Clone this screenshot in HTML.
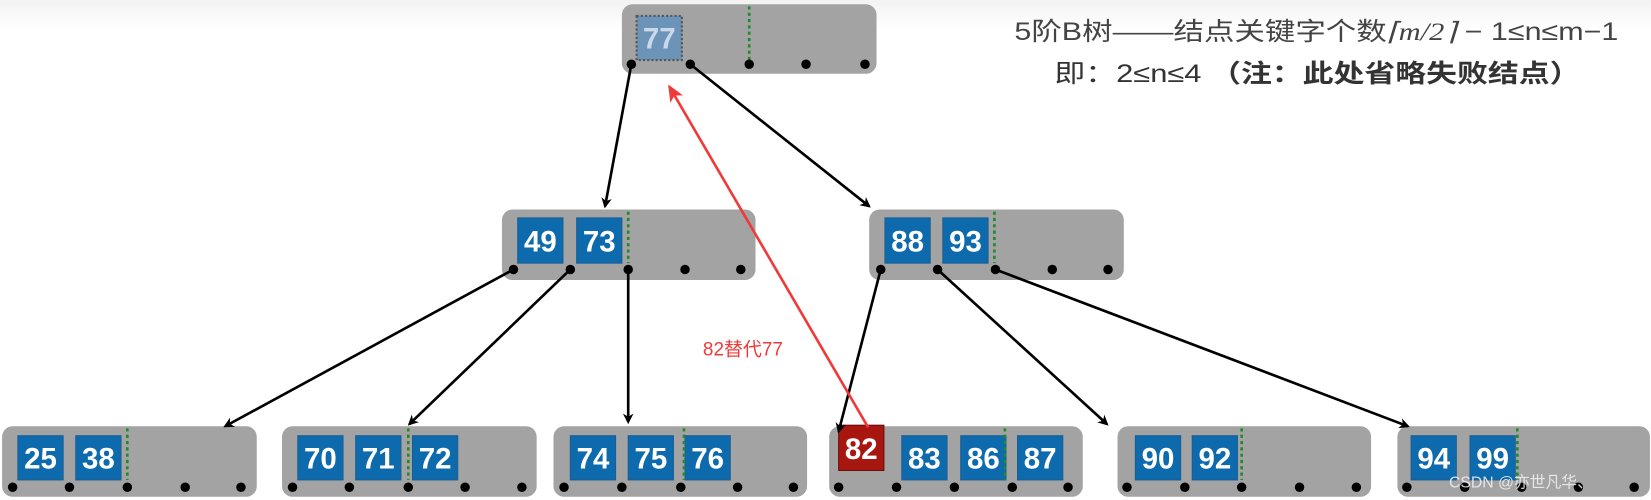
<!DOCTYPE html>
<html><head><meta charset="utf-8"><style>
html,body{margin:0;padding:0;background:#fff;}
svg{display:block;}
.n{fill:#a3a3a3;}
.k{fill:#0d6aad;stroke:#1a5e95;stroke-width:1;}
.kt{font-family:"Liberation Sans",sans-serif;font-size:28px;font-weight:bold;fill:#fff;text-anchor:middle;}
.g{stroke:#1f8a2a;stroke-width:2.5;stroke-dasharray:3 3;}
.d{fill:#000;}
.a{stroke:#000;stroke-width:2.5;fill:none;}
</style></head><body>
<svg width="1651" height="500" viewBox="0 0 1569 475" xmlns="http://www.w3.org/2000/svg">
<defs>
<linearGradient id="bg" x1="0" y1="0" x2="0" y2="1"><stop offset="0" stop-color="#f2f2f2"/><stop offset="0.25" stop-color="#ffffff"/></linearGradient>
<marker id="ah" markerWidth="10" markerHeight="10" refX="8" refY="5" orient="auto" markerUnits="userSpaceOnUse"><path d="M0,0 L10,5 L0,10 L3,5 z" fill="#000"/></marker>
<marker id="rh" markerWidth="16" markerHeight="14" refX="14" refY="7" orient="auto" markerUnits="userSpaceOnUse"><path d="M0,0 L16,7 L0,14 L4,7 z" fill="#f03a3a"/></marker>
</defs>
<rect width="1569" height="110" fill="url(#bg)"/>
<rect class="n" x="591" y="4" width="242" height="66" rx="10"/>
<rect x="605" y="15" width="43" height="42" fill="#6c93b8" stroke="#555" stroke-width="2" stroke-dasharray="2 2"/>
<text class="kt" x="626.5" y="46" style="fill:#c9d9ea">77</text>
<line class="g" x1="712" y1="6" x2="712" y2="58"/>
<g class="d"><circle cx="600" cy="61" r="4.5"/><circle cx="656" cy="61" r="4.5"/><circle cx="712" cy="61" r="4.5"/><circle cx="766" cy="61" r="4.5"/><circle cx="822" cy="61" r="4.5"/></g>
<rect class="n" x="477" y="199" width="241" height="67" rx="10"/>
<rect class="k" x="492" y="207" width="43" height="43"/><text class="kt" x="513.5" y="239">49</text>
<rect class="k" x="548" y="207" width="43" height="43"/><text class="kt" x="569.5" y="239">73</text>
<line class="g" x1="597" y1="201" x2="597" y2="250"/>
<g class="d"><circle cx="488" cy="256" r="4.5"/><circle cx="542" cy="256" r="4.5"/><circle cx="597" cy="256" r="4.5"/><circle cx="651" cy="256" r="4.5"/><circle cx="704" cy="256" r="4.5"/></g>
<rect class="n" x="826" y="199" width="242" height="67" rx="10"/>
<rect class="k" x="841" y="207" width="43" height="43"/><text class="kt" x="862.5" y="239">88</text>
<rect class="k" x="896" y="207" width="43" height="43"/><text class="kt" x="917.5" y="239">93</text>
<line class="g" x1="945" y1="201" x2="945" y2="250"/>
<g class="d"><circle cx="837" cy="256" r="4.5"/><circle cx="891" cy="256" r="4.5"/><circle cx="946" cy="256" r="4.5"/><circle cx="1000" cy="256" r="4.5"/><circle cx="1053" cy="256" r="4.5"/></g>

<rect class="n" x="2" y="405" width="242" height="67" rx="10"/>
<rect class="k" x="17" y="414" width="43" height="42"/><text class="kt" x="38.5" y="445">25</text>
<rect class="k" x="72" y="414" width="43" height="42"/><text class="kt" x="93.5" y="445">38</text>
<line class="g" x1="121" y1="407" x2="121" y2="456"/>
<g class="d"><circle cx="12" cy="463" r="4.5"/><circle cx="66" cy="463" r="4.5"/><circle cx="121" cy="463" r="4.5"/><circle cx="176" cy="463" r="4.5"/><circle cx="229" cy="463" r="4.5"/></g>

<rect class="n" x="268" y="405" width="242" height="67" rx="10"/>
<rect class="k" x="283" y="414" width="43" height="42"/><text class="kt" x="304.5" y="445">70</text>
<rect class="k" x="338" y="414" width="43" height="42"/><text class="kt" x="359.5" y="445">71</text>
<rect class="k" x="392" y="414" width="43" height="42"/><text class="kt" x="413.5" y="445">72</text>
<line class="g" x1="388" y1="407" x2="388" y2="456"/>
<g class="d"><circle cx="278" cy="463" r="4.5"/><circle cx="332" cy="463" r="4.5"/><circle cx="388" cy="463" r="4.5"/><circle cx="442" cy="463" r="4.5"/><circle cx="496" cy="463" r="4.5"/></g>

<rect class="n" x="526" y="405" width="241" height="67" rx="10"/>
<rect class="k" x="542" y="414" width="43" height="42"/><text class="kt" x="563.5" y="445">74</text>
<rect class="k" x="597" y="414" width="43" height="42"/><text class="kt" x="618.5" y="445">75</text>
<rect class="k" x="651" y="414" width="43" height="42"/><text class="kt" x="672.5" y="445">76</text>
<line class="g" x1="650" y1="407" x2="650" y2="456"/>
<g class="d"><circle cx="536" cy="463" r="4.5"/><circle cx="591" cy="463" r="4.5"/><circle cx="647" cy="463" r="4.5"/><circle cx="701" cy="463" r="4.5"/><circle cx="754" cy="463" r="4.5"/></g>

<rect class="n" x="788" y="405" width="241" height="67" rx="10"/>
<rect x="797" y="404" width="43" height="43" fill="#a8170f" stroke="#6a0c08"/><text class="kt" x="818.5" y="436">82</text>
<rect class="k" x="857" y="414" width="43" height="42"/><text class="kt" x="878.5" y="445">83</text>
<rect class="k" x="913" y="414" width="43" height="42"/><text class="kt" x="934.5" y="445">86</text>
<rect class="k" x="967" y="414" width="43" height="42"/><text class="kt" x="988.5" y="445">87</text>
<line class="g" x1="955" y1="407" x2="955" y2="456"/>
<g class="d"><circle cx="797" cy="463" r="4.5"/><circle cx="852" cy="463" r="4.5"/><circle cx="907" cy="463" r="4.5"/><circle cx="962" cy="463" r="4.5"/><circle cx="1015" cy="463" r="4.5"/></g>

<rect class="n" x="1062" y="405" width="241" height="67" rx="10"/>
<rect class="k" x="1079" y="414" width="43" height="42"/><text class="kt" x="1100.5" y="445">90</text>
<rect class="k" x="1133" y="414" width="43" height="42"/><text class="kt" x="1154.5" y="445">92</text>
<line class="g" x1="1180" y1="407" x2="1180" y2="456"/>
<g class="d"><circle cx="1071" cy="463" r="4.5"/><circle cx="1126" cy="463" r="4.5"/><circle cx="1180" cy="463" r="4.5"/><circle cx="1235" cy="463" r="4.5"/><circle cx="1289" cy="463" r="4.5"/></g>

<rect class="n" x="1328" y="405" width="240" height="67" rx="10"/>
<rect class="k" x="1341" y="414" width="43" height="42"/><text class="kt" x="1362.5" y="445">94</text>
<rect class="k" x="1397" y="414" width="43" height="42"/><text class="kt" x="1418.5" y="445">99</text>
<line class="g" x1="1442" y1="407" x2="1442" y2="456"/>
<g class="d"><circle cx="1337" cy="463" r="4.5"/><circle cx="1392" cy="463" r="4.5"/><circle cx="1446" cy="463" r="4.5"/><circle cx="1500" cy="463" r="4.5"/><circle cx="1553" cy="463" r="4.5"/></g>

<line class="a" x1="600" y1="61" x2="575" y2="196" marker-end="url(#ah)"/>
<line class="a" x1="656" y1="61" x2="826" y2="196" marker-end="url(#ah)"/>
<line class="a" x1="488" y1="256" x2="214" y2="405" marker-end="url(#ah)"/>
<line class="a" x1="542" y1="256" x2="389" y2="403" marker-end="url(#ah)"/>
<line class="a" x1="597" y1="256" x2="597" y2="401" marker-end="url(#ah)"/>
<line class="a" x1="837" y1="256" x2="797" y2="410" marker-end="url(#ah)"/>
<line class="a" x1="891" y1="256" x2="1052" y2="403" marker-end="url(#ah)"/>
<line class="a" x1="946" y1="256" x2="1338" y2="405" marker-end="url(#ah)"/>
<line x1="825" y1="406" x2="636" y2="82" stroke="#f03a3a" stroke-width="2.5" marker-end="url(#rh)"/>
<text x="668" y="338" font-family="Liberation Sans,'Noto Sans CJK SC',sans-serif" font-size="18" fill="#f03a3a">82替代77</text>
<text x="964" y="38" font-family="Liberation Sans,'Noto Sans CJK SC',sans-serif" font-size="24" fill="#444" textLength="574" lengthAdjust="spacingAndGlyphs">5阶B树——结点关键字个数<tspan font-family="Liberation Serif,serif" font-style="italic">⌈m/2⌉</tspan> − 1≤n≤m−1</text>
<text x="1002" y="78" font-family="Liberation Sans,'Noto Sans CJK SC',sans-serif" font-size="24" fill="#333" textLength="500" lengthAdjust="spacingAndGlyphs">即：2≤n≤4 <tspan font-weight="bold">（注：此处省略失败结点）</tspan></text>
<text x="1377" y="463" font-family="Liberation Sans,'Noto Sans CJK SC',sans-serif" font-size="15" fill="#f2f2f2" opacity="0.85">CSDN @亦世凡华、</text>
</svg>
</body></html>
